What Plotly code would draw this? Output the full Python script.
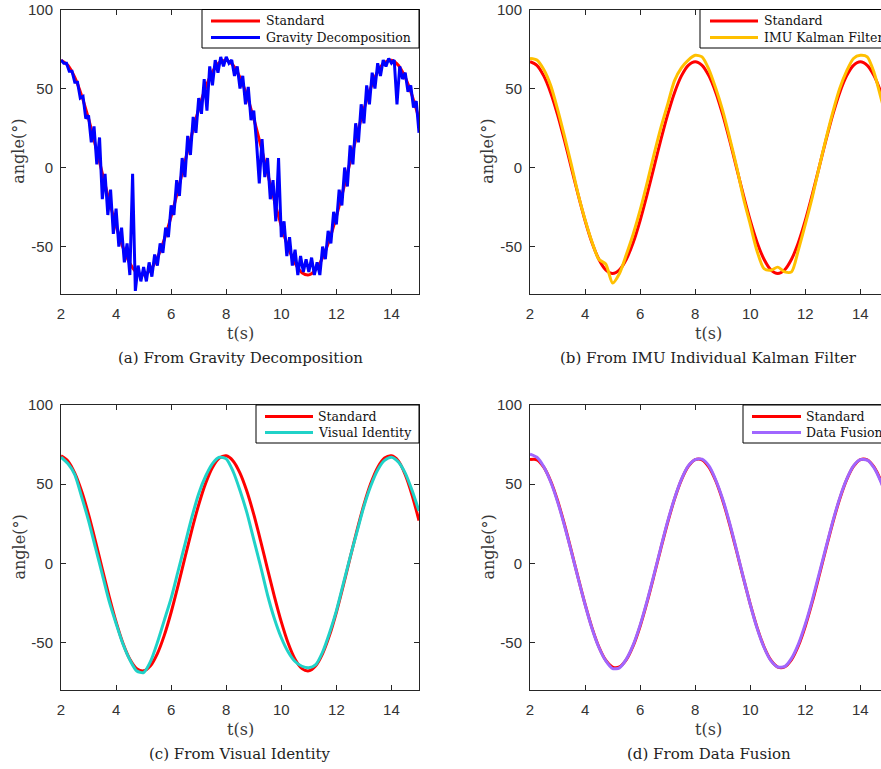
import plotly.graph_objects as go

W, H = 881, 769

# ---------------- data ----------------
t_std = [2.0 + 0.25 * i for i in range(53)]              # 2.0 .. 15.0
t_fine = [round(2.0 + 0.1 * i, 1) for i in range(131)]  # 2.0 .. 15.0

# (a) Gravity Decomposition
std_a = [67.9, 64.7, 57.0, 45.5, 30.9, 14.1, -3.6, -21.0, -37.0, -50.5, -60.6, -66.5,
         -67.9, -64.7, -57.0, -45.5, -30.9, -14.1, 3.6, 21.0, 37.0, 50.5, 60.6, 66.5,
         67.9, 64.7, 57.0, 45.5, 30.9, 14.1, -3.6, -21.0, -37.0, -50.5, -60.6, -66.5,
         -67.9, -64.7, -57.0, -45.5, -30.9, -14.1, 3.6, 21.0, 37.0, 50.5, 60.6, 66.5,
         67.9, 64.7, 57.0, 45.5, 30.9]
gravity = [68, 66, 66, 61, 61, 54, 54, 44, 45, 31,
           33, 16, 26, 2, 19, -20, -4, -30, -14, -42,
           -26, -50, -38, -60, -48, -68, -4, -78, -62, -72,
           -63, -72, -60, -69, -55, -62, -48, -54, -38, -44,
           -24, -30, -8, -18, 6, -6, 20, 8, 32, 22,
           44, 34, 56, 36, 64, 52, 68, 60, 70, 64,
           70, 66, 68, 58, 64, 50, 58, 40, 51, 30,
           36, 16, -10, 18, -6, 6, -20, -8, -34, 6,
           -44, -34, -56, -44, -62, -52, -68, -56, -66, -58,
           -66, -57, -68, -60, -68, -50, -58, -40, -48, -28,
           -36, -14, -24, 0, -12, 14, 2, 28, 16, 40,
           28, 52, 40, 60, 50, 66, 58, 68, 64, 69,
           66, 68, 40, 64, 56, 60, 48, 52, 38, 42,
           22]

# (b) IMU Kalman Filter
std_b = [67.0, 64.7, 58.0, 47.4, 33.5, 17.3, 0.0, -17.3, -33.5, -47.4, -58.0, -64.7,
         -67.0, -64.7, -58.0, -47.4, -33.5, -17.3, 0.0, 17.3, 33.5, 47.4, 58.0, 64.7,
         67.0, 64.7, 58.0, 47.4, 33.5, 17.3, 0.0, -17.3, -33.5, -47.4, -58.0, -64.7,
         -67.0, -64.7, -58.0, -47.4, -33.5, -17.3, 0.0, 17.3, 33.5, 47.4, 58.0, 64.7,
         67.0, 64.7, 58.0, 47.4, 33.5]
kalman = [69, 68, 62, 52, 37, 20, 2, -17, -33, -47, -58, -61,
          -73, -67, -55, -42, -27, -10, 8, 25, 40, 55, 63, 68,
          71, 70, 62, 50, 36, 19, 1, -19, -36, -53, -64, -65,
          -63, -66, -66, -52, -36, -19, 0, 18, 35, 50, 61, 69,
          71, 70, 60, 44, 28]

# (c) Visual Identity
std_c = [67.9, 64.7, 57.0, 45.5, 30.9, 14.1, -3.6, -21.0, -37.0, -50.5, -60.6, -66.5,
         -67.9, -64.7, -57.0, -45.5, -30.9, -14.1, 3.6, 21.0, 37.0, 50.5, 60.6, 66.5,
         67.9, 64.7, 57.0, 45.5, 30.9, 14.1, -3.6, -21.0, -37.0, -50.5, -60.6, -66.5,
         -67.9, -64.7, -57.0, -45.5, -30.9, -14.1, 3.6, 21.0, 37.0, 50.5, 60.6, 66.5,
         67.9, 64.7, 56.0, 43.0, 27.0]
visual = [67, 63, 56, 42, 27, 10, -7, -24, -38, -51, -61, -68,
          -69, -62, -50, -36, -22, -5, 12, 29, 44, 55, 63, 67,
          66, 58, 46, 32, 15, -2, -20, -35, -47, -56, -62, -65,
          -66, -64, -56, -44, -30, -13, 4, 20, 36, 49, 59, 65,
          67, 64, 57, 46, 33]

# (d) Data Fusion
std_d = [65.5, 65.4, 60.8, 52.0, 39.7, 24.7, 8.0, -9.2, -25.8, -40.6, -52.7, -61.2,
         -65.5, -65.4, -60.8, -52.0, -39.7, -24.7, -8.0, 9.2, 25.8, 40.6, 52.7, 61.2,
         65.5, 65.4, 60.8, 52.0, 39.7, 24.7, 8.0, -9.2, -25.8, -40.6, -52.7, -61.2,
         -65.5, -65.4, -60.8, -52.0, -39.7, -24.7, -8.0, 9.2, 25.8, 40.6, 52.7, 61.2,
         65.5, 65.4, 60.8, 52.0, 39.7]
fusion = [69, 67, 61, 51.5, 39, 24, 7.5, -9.5, -26, -41, -53, -61.5,
          -66.5, -66, -60.5, -51.5, -39, -24, -7.5, 9.8, 26.5, 41, 53, 61.5,
          65.5, 65.8, 61.5, 52.5, 40.5, 25.5, 8.5, -9, -26, -41, -53, -61.5,
          -65.5, -65.2, -60, -51, -38.5, -23.5, -6.8, 10, 26.5, 41.2, 53, 61.5,
          65.5, 65.2, 60.3, 51.3, 39]

x_ticks = [2, 4, 6, 8, 10, 12, 14]
x_tick_labels = ["2", "4", "6", "8", "10", "12", "14"]
y_ticks = [-50, 0, 50, 100]
y_tick_labels = ["-50", "0", "50", "100"]
captions = ["(a) From Gravity Decomposition", "(b) From IMU Individual Kalman Filter",
            "(c) From Visual Identity", "(d) From Data Fusion"]
std_name = "Standard"
series_names = ["Gravity Decomposition", "IMU Kalman Filter", "Visual Identity", "Data Fusion"]
series_colors = ["#0000FF", "#FFC000", "#20D2C8", "#A066FF"]
std_color = "#FF0000"

# ---------------- layout geometry (pixels) ----------------
def px_x(p):
    return p / W

def px_y(p):
    return 1 - p / H

panels = [
    dict(l=61, r=419, t=9.5, b=294),    # a
    dict(l=530, r=881, t=9.5, b=294),   # b
    dict(l=61, r=419, t=405, b=690),    # c
    dict(l=530, r=881, t=405, b=690),   # d
]
x_ranges = [[2, 15], [2, 14.75], [2, 15], [2, 14.75]]
# legend boxes: left, right, top, bottom, line start, line end, text start, row1 y, row2 y
legend_boxes = [
    dict(l=202, r=419, t=9.5, b=48, ls=211, le=260, tx=264, y1=21, y2=37.5),
    dict(l=700, r=900, t=9.5, b=48, ls=710, le=758, tx=762, y1=21, y2=37.5),
    dict(l=256, r=419, t=405, b=443, ls=265, le=313, tx=316, y1=416.5, y2=432.5),
    dict(l=743, r=900, t=405, b=443, ls=752, le=801, tx=804, y1=416.5, y2=432.5),
]

std_list = [std_a, std_b, std_c, std_d]
other_t = [t_fine, t_std, t_std, t_std]
other_y = [gravity, kalman, visual, fusion]
other_shape = ["linear", "spline", "spline", "spline"]

serif = "DejaVu Serif"
sans = "Liberation Sans"
axis_col = "#262626"

fig = go.Figure()
for i in range(4):
    ax = "" if i == 0 else str(i + 1)
    fig.add_trace(go.Scatter(x=t_std, y=std_list[i], mode="lines", name=std_name,
                             line=dict(color=std_color, width=3, shape="spline", smoothing=0.8),
                             xaxis="x" + ax, yaxis="y" + ax, showlegend=False))
    fig.add_trace(go.Scatter(x=other_t[i], y=other_y[i], mode="lines", name=series_names[i],
                             line=dict(color=series_colors[i], width=3,
                                       shape=other_shape[i], smoothing=0.7),
                             xaxis="x" + ax, yaxis="y" + ax, showlegend=False))

layout = dict(
    width=W, height=H,
    margin=dict(l=0, r=0, t=0, b=0, autoexpand=False),
    paper_bgcolor="white", plot_bgcolor="white",
    showlegend=False,
)

annotations = []
shapes = []
for i, p in enumerate(panels):
    ax = "" if i == 0 else str(i + 1)
    edge = p["r"] >= W
    layout["xaxis" + ax] = dict(
        domain=[px_x(p["l"]), px_x(p["r"])], range=x_ranges[i],
        anchor="y" + ax, tickvals=x_ticks, ticktext=x_tick_labels,
        ticks="inside", ticklen=5, tickcolor=axis_col,
        showline=True, linecolor=axis_col, linewidth=1, mirror="ticks",
        showgrid=False, zeroline=False, ticklabelstandoff=6,
        tickfont=dict(family=sans, size=15, color="#333333"),
    )
    layout["yaxis" + ax] = dict(
        domain=[px_y(p["b"]), px_y(p["t"])], range=[-80, 100],
        anchor="x" + ax, tickvals=y_ticks, ticktext=y_tick_labels,
        ticks="inside", ticklen=5, tickcolor=axis_col,
        showline=True, linecolor=axis_col, linewidth=1,
        mirror=False if edge else "ticks",
        showgrid=False, zeroline=False, ticklabelstandoff=4,
        tickfont=dict(family=sans, size=15, color="#333333"),
    )
    full_r = p["l"] + 13 * (p["r"] - p["l"]) / (x_ranges[i][1] - 2)
    full_cx = (p["l"] + full_r) / 2
    annotations.append(dict(xref="paper", yref="paper", x=px_x(full_cx), y=px_y(p["b"] + 39),
                            text="t(s)", showarrow=False, xanchor="center", yanchor="middle",
                            font=dict(family=serif, size=16, color="#3a3a3a")))
    annotations.append(dict(xref="paper", yref="paper", x=px_x(full_cx), y=px_y(p["b"] + 64),
                            text=captions[i], showarrow=False, xanchor="center", yanchor="middle",
                            font=dict(family=serif, size=15, color="#222222")))
    annotations.append(dict(xref="paper", yref="paper", x=px_x(p["l"] - 42),
                            y=px_y((p["t"] + p["b"]) / 2),
                            text="angle(°)", textangle=-90, showarrow=False,
                            xanchor="center", yanchor="middle",
                            font=dict(family=serif, size=16, color="#3a3a3a")))

    # legend box
    lb = legend_boxes[i]
    shapes.append(dict(type="rect", xref="paper", yref="paper",
                       x0=px_x(lb["l"]), x1=px_x(lb["r"]), y0=px_y(lb["b"]), y1=px_y(lb["t"]),
                       line=dict(color="#000000", width=1), fillcolor="white", layer="above"))
    for yy, col in ((lb["y1"], std_color), (lb["y2"], series_colors[i])):
        shapes.append(dict(type="line", xref="paper", yref="paper",
                           x0=px_x(lb["ls"]), x1=px_x(lb["le"]), y0=px_y(yy), y1=px_y(yy),
                           line=dict(color=col, width=3), layer="above"))
    for yy, txt in ((lb["y1"], std_name), (lb["y2"], series_names[i])):
        annotations.append(dict(xref="paper", yref="paper", x=px_x(lb["tx"]), y=px_y(yy),
                                text=txt, showarrow=False, xanchor="left", yanchor="middle",
                                font=dict(family=serif, size=12.5, color="#111111")))

layout["annotations"] = annotations
layout["shapes"] = shapes
fig.update_layout(**layout)
fig.write_html("out.html",
               config={"displayModeBar": False},
               post_script="document.body.style.margin='0';document.body.style.overflow='hidden';")
